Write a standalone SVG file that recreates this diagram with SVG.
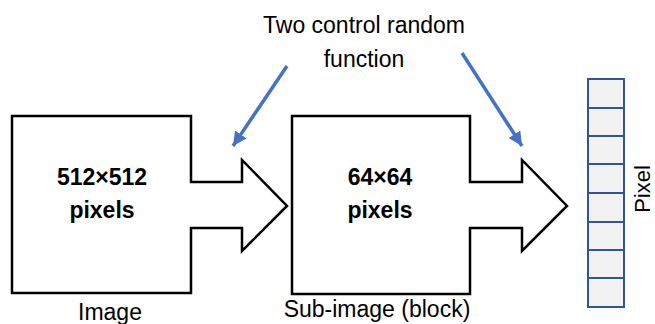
<svg xmlns="http://www.w3.org/2000/svg" width="655" height="324" viewBox="0 0 655 324">
<style>
.shape{fill:#fff;stroke:#000;stroke-width:2.5;stroke-linejoin:miter}
.lbl{font-family:"Liberation Sans",Arial,sans-serif;font-size:23px;fill:#000}
.bold{font-family:"Liberation Sans",Arial,sans-serif;font-size:23px;font-weight:bold;fill:#000}
.cell{fill:#F2F2F2;stroke:#2F5597;stroke-width:2}
.blue{stroke:#4472C4;stroke-width:3.5;fill:none}
</style>
<defs>
<marker id="ah2" viewBox="0 0 10 10" refX="10" refY="5" markerWidth="4" markerHeight="4" orient="auto">
<path d="M0,0 L10,5 L0,10 z" fill="#4472C4"/>
</marker>
</defs>
<rect width="655" height="324" fill="#fff"/>
<text class="lbl" x="364" y="33" text-anchor="middle">Two control random</text>
<text class="lbl" x="364" y="67" text-anchor="middle">function</text>
<g id="image">
<path class="shape" d="M12,116 H191 V182 H242 V160 L287,206 L242,251 V228 H191 V293 H12 Z"/>
<text class="bold" x="102" y="185" text-anchor="middle">512×512</text>
<text class="bold" x="102" y="218" text-anchor="middle">pixels</text>
<text class="lbl" x="110" y="320" text-anchor="middle">Image</text>
</g>
<g id="subimage">
<path class="shape" d="M292,116 H470 V182 H522 V160 L567,206 L522,251 V228 H470 V294 H292 Z"/>
<text class="bold" x="380" y="185" text-anchor="middle">64×64</text>
<text class="bold" x="380" y="218" text-anchor="middle">pixels</text>
<text class="lbl" x="377" y="317" text-anchor="middle">Sub-image (block)</text>
</g>
<g id="pixel">
<rect class="cell" x="588" y="79" width="36" height="29"/>
<rect class="cell" x="588" y="108" width="36" height="28"/>
<rect class="cell" x="588" y="136" width="36" height="28"/>
<rect class="cell" x="588" y="164" width="36" height="29"/>
<rect class="cell" x="588" y="193" width="36" height="29"/>
<rect class="cell" x="588" y="222" width="36" height="28"/>
<rect class="cell" x="588" y="250" width="36" height="28"/>
<rect class="cell" x="588" y="278" width="36" height="29"/>
<text class="lbl" transform="translate(650,189) rotate(-90)" text-anchor="middle" style="font-size:22px">Pixel</text>
</g>
<g id="connectors">
<line class="blue" x1="287" y1="66" x2="233" y2="146" marker-end="url(#ah2)"/>
<line class="blue" x1="462" y1="53" x2="522" y2="146" marker-end="url(#ah2)"/>
</g>
</svg>
